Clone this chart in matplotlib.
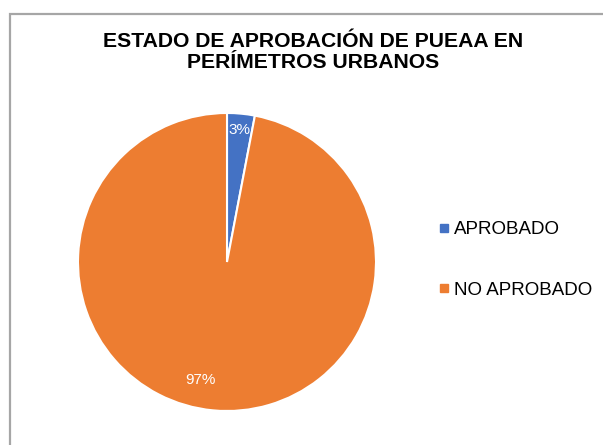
import matplotlib
matplotlib.use("Agg")
import matplotlib.pyplot as plt
from matplotlib.patches import Rectangle
from matplotlib.lines import Line2D
import numpy as np

plt.rcParams['font.family'] = ['Liberation Sans', 'DejaVu Sans']

categories = ["APROBADO", "NO APROBADO"]
values = [3, 97]
colors = ["#4472C4", "#ED7D31"]
title = "ESTADO DE APROBACIÓN DE PUEAA EN\nPERÍMETROS URBANOS"

W, H = 603, 445
fig = plt.figure(figsize=(W / 100, H / 100), dpi=100)

# chart border (cut off at right and bottom)
fig.add_artist(Rectangle((9.5 / W, -0.1), 1.2, (H - 13.5) / H + 0.1,
                         transform=fig.transFigure, fill=False,
                         edgecolor="#A6A6A6", linewidth=1.6))

fig.text(313 / W, 1 - 52 / H, title, ha="center", va="center",
         fontsize=15.2, fontweight="bold", linespacing=1.15)

r_px = 149
cx, cy = 227, 262
ax = fig.add_axes([(cx - r_px) / W, 1 - (cy + r_px) / H, 2 * r_px / W, 2 * r_px / H])
wedges, texts, autotexts = ax.pie(values, colors=colors, startangle=90, counterclock=False,
                                  autopct=lambda p: f"{p:.0f}%", pctdistance=0.89,
                                  wedgeprops=dict(edgecolor="white", linewidth=1.5),
                                  textprops=dict(color="white", fontsize=11))
ax.set_xlim(-1, 1)
ax.set_ylim(-1, 1)
ax.set_aspect("auto")
# Excel-style placement for the large slice label
ang = np.deg2rad(-102.9)
autotexts[1].set_position((0.81 * np.cos(ang), 0.81 * np.sin(ang)))

handles = [Line2D([0], [0], marker="s", linestyle="none", markersize=6,
                  markerfacecolor=c, markeredgecolor=c) for c in colors]
fig.legend(handles, categories, loc="center left",
           bbox_to_anchor=(421 / W, 1 - 260 / H), frameon=False,
           fontsize=13.5, handlelength=0.6, handletextpad=0.25,
           labelspacing=2.32)

fig.savefig("out.png", dpi=100)
